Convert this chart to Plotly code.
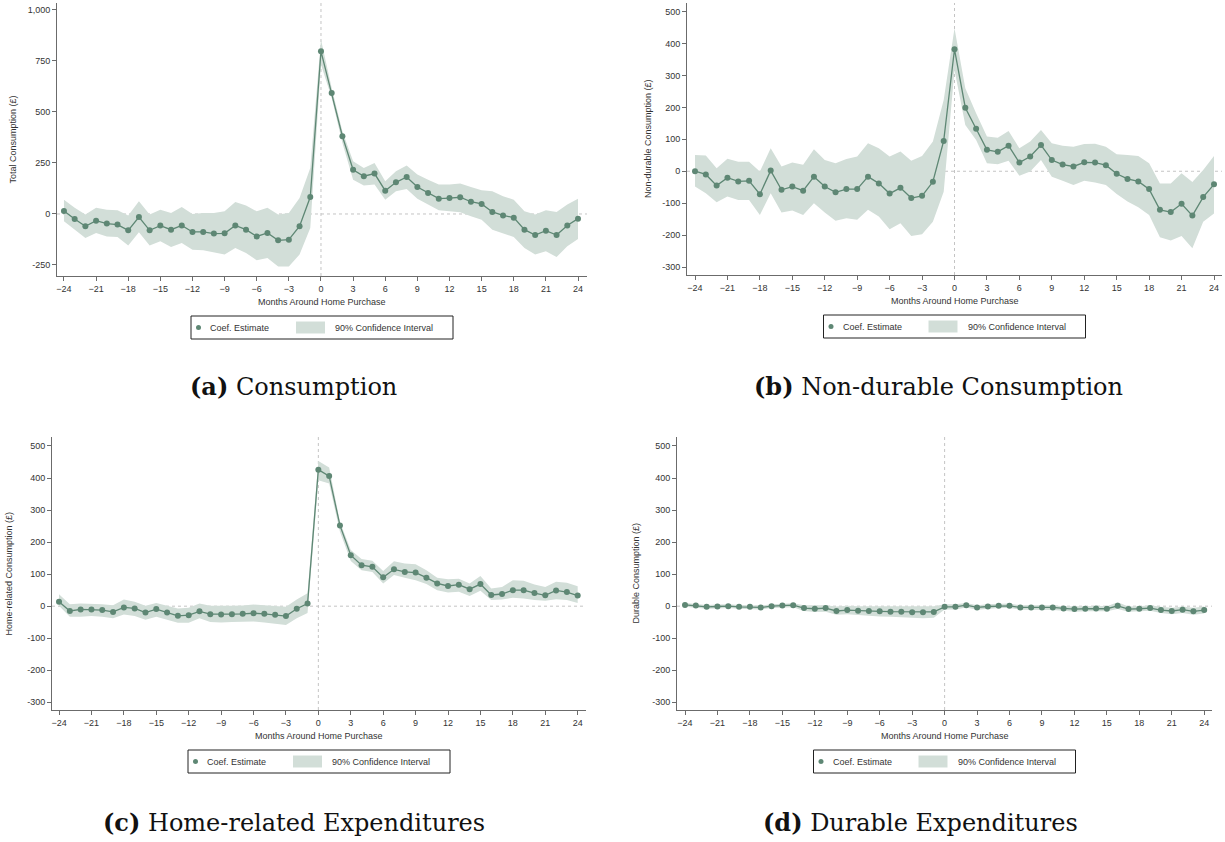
import plotly.graph_objects as go

months = list(range(-24, 25))
x_ticks = list(range(-24, 25, 3))

# (a) Total consumption
a_est = [15, -25, -60, -33, -47, -52, -80, -15, -80, -57, -77, -56, -88, -88, -96, -95, -56, -77, -110, -93, -129, -126, -60, 83,
         797, 593, 381, 217, 185, 198, 114, 155, 181, 132, 103, 75, 78, 82, 60, 49, 10, -7, -18, -77, -103, -82, -103, -56, -23]
a_hi = [70, 30, -3, 30, 21, 18, -8, 62, -3, 21, 5, 34, 0, 5, 5, 13, 59, 41, 13, 30, -3, 5, 78, 225,
        855, 618, 405, 258, 225, 250, 160, 209, 237, 193, 168, 144, 144, 149, 132, 116, 111, 87, 70, 13, -3, 18, 10, 46, 75]
a_lo = [-36, -77, -118, -93, -110, -113, -155, -90, -155, -134, -162, -142, -175, -178, -188, -199, -167, -191, -227, -216, -257, -257, -199, -69,
        732, 569, 348, 168, 139, 144, 70, 111, 123, 74, 46, 18, 13, 8, -11, -28, -77, -96, -113, -167, -199, -183, -211, -158, -123]

# (b) Non-durable consumption
b_est = [0, -10, -45, -20, -32, -30, -72, 2, -58, -48, -61, -17, -48, -66, -56, -56, -17, -38, -70, -52, -84, -77, -33, 95,
         382, 199, 133, 67, 61, 80, 27, 46, 82, 35, 21, 15, 28, 27, 19, -8, -24, -32, -56, -121, -128, -102, -139, -81, -41]
b_hi = [51, 49, 9, 39, 30, 30, -1, 72, 15, 27, 20, 69, 35, 25, 38, 46, 88, 72, 46, 62, 33, 48, 93, 223,
        448, 260, 182, 109, 105, 126, 72, 93, 129, 88, 80, 77, 85, 86, 77, 53, 51, 48, 25, -38, -38, -6, -34, 4, 48]
b_lo = [-48, -69, -97, -79, -90, -90, -137, -69, -129, -123, -137, -100, -129, -155, -147, -152, -121, -142, -182, -163, -203, -197, -158, -64,
        317, 145, 98, 25, 22, 33, -14, -1, 35, -17, -30, -43, -30, -35, -43, -71, -95, -113, -137, -207, -217, -203, -241, -158, -132]

# (c) Home-related expenditures
c_est = [14, -15, -10, -10, -12, -18, -4, -7, -20, -9, -20, -30, -28, -16, -25, -26, -25, -24, -22, -24, -27, -31, -8, 8,
         426, 406, 252, 159, 128, 123, 90, 115, 107, 105, 89, 71, 63, 67, 53, 69, 35, 38, 50, 50, 41, 34, 49, 44, 33]
c_hi = [37, 6, 8, 8, 6, 3, 21, 14, 1, 10, 1, -7, -5, 8, 1, 0, 1, 2, 5, 3, 1, -2, 21, 40,
        453, 433, 263, 175, 147, 142, 110, 140, 133, 131, 112, 89, 84, 86, 71, 94, 55, 60, 81, 79, 68, 60, 76, 73, 62]
c_lo = [1, -33, -33, -31, -33, -38, -26, -31, -42, -33, -42, -52, -52, -38, -49, -51, -49, -49, -48, -51, -54, -59, -38, -21,
        393, 383, 232, 141, 112, 107, 71, 97, 89, 81, 69, 50, 43, 45, 32, 48, 19, 21, 26, 24, 19, 17, 22, 19, 10]

# (d) Durable expenditures
d_est = [4, 2, -2, -1, 0, -2, -2, -4, 0, 2, 3, -6, -8, -6, -15, -12, -14, -15, -16, -17, -17, -19, -19, -18,
         -2, -2, 3, -4, -1, 1, 1, -4, -4, -4, -4, -7, -9, -8, -7, -8, 1, -9, -8, -6, -12, -15, -11, -16, -12]
d_hi = [10, 8, 4, 5, 6, 4, 4, 2, 6, 8, 9, 3, 2, 3, -1, 1, 0, 0, 0, 0, 0, -1, -1, 0,
        6, 6, 10, 3, 6, 8, 8, 3, 3, 3, 3, 0, -1, 0, 1, 0, 12, -1, 0, 3, -2, -5, -1, -5, -1]
d_lo = [-2, -4, -8, -7, -6, -8, -8, -10, -6, -4, -3, -15, -18, -17, -27, -25, -28, -30, -32, -33, -34, -37, -38, -36,
        -10, -10, -4, -11, -8, -6, -6, -11, -11, -11, -12, -14, -17, -16, -15, -16, -9, -17, -16, -14, -21, -25, -21, -27, -23]

y_titles = ["Total Consumption (£)", "Non-durable Consumption (£)",
            "Home-related Consumption (£)", "Durable Consumption (£)"]
captions = [("(a)", "Consumption"), ("(b)", "Non-durable Consumption"),
            ("(c)", "Home-related Expenditures"), ("(d)", "Durable Expenditures")]
ab_yticks = [-250, 0, 250, 500, 750, 1000]
std_yticks = [-300, -200, -100, 0, 100, 200, 300, 400, 500]

W, H = 1225, 842
LINE_COL = "#5e8774"
BAND_COL = "#d2ded8"
TXT = "#333333"
AX = "#6b6b6b"

panels = [
    dict(px=(57, 587), py=(3, 276), xr=[-24.65, 24.84], yr=[-304, 1034], yt=ab_yticks, ytl=["-250", "0", "250", "500", "750", "1,000"],
         est=a_est, hi=a_hi, lo=a_lo, ytx=12, cap_x=293, cap_y=386),
    dict(px=(687, 1222), py=(3, 275), xr=[-24.74, 24.74], yr=[-325, 527], yt=std_yticks, ytl=[str(v) for v in std_yticks],
         est=b_est, hi=b_hi, lo=b_lo, ytx=648, cap_x=938, cap_y=386),
    dict(px=(52, 586), py=(437, 710), xr=[-24.65, 24.77], yr=[-324, 528], yt=std_yticks, ytl=[str(v) for v in std_yticks],
         est=c_est, hi=c_hi, lo=c_lo, ytx=8, cap_x=294, cap_y=822),
    dict(px=(677, 1212), py=(437, 710), xr=[-24.74, 24.72], yr=[-324, 528], yt=std_yticks, ytl=[str(v) for v in std_yticks],
         est=d_est, hi=d_hi, lo=d_lo, ytx=635, cap_x=920, cap_y=822),
]

def fx(p):
    return p / W

def fy(p):
    return 1 - p / H

fig = go.Figure()
shapes = []
annotations = []
layout_axes = {}
sans = "Liberation Sans, Arial, sans-serif"

for i, p in enumerate(panels):
    n = i + 1
    xa = "x" if n == 1 else f"x{n}"
    ya = "y" if n == 1 else f"y{n}"
    xkey = "xaxis" if n == 1 else f"xaxis{n}"
    ykey = "yaxis" if n == 1 else f"yaxis{n}"

    fig.add_trace(go.Scatter(x=months, y=p["hi"], mode="lines", line=dict(width=0, color=BAND_COL),
                             xaxis=xa, yaxis=ya, showlegend=False, hoverinfo="skip"))
    fig.add_trace(go.Scatter(x=months, y=p["lo"], mode="lines", line=dict(width=0, color=BAND_COL),
                             fill="tonexty", fillcolor=BAND_COL,
                             xaxis=xa, yaxis=ya, showlegend=False, hoverinfo="skip"))
    fig.add_trace(go.Scatter(x=months, y=p["est"], mode="lines+markers",
                             line=dict(width=1.3, color=LINE_COL),
                             marker=dict(size=6, color=LINE_COL),
                             xaxis=xa, yaxis=ya, showlegend=False))

    axfont = dict(family=sans, size=9, color=TXT)
    layout_axes[xkey] = dict(domain=[fx(p["px"][0]), fx(p["px"][1])], anchor=ya, range=p["xr"],
                             tickvals=x_ticks, ticks="outside", ticklen=4, tickcolor=AX,
                             showline=True, linecolor=AX, linewidth=1, showgrid=False, zeroline=False,
                             tickfont=axfont, fixedrange=True)
    layout_axes[ykey] = dict(domain=[fy(p["py"][1]), fy(p["py"][0])], anchor=xa, range=p["yr"],
                             tickvals=p["yt"], ticktext=p["ytl"], ticks="outside", ticklen=4, tickcolor=AX,
                             showline=True, linecolor=AX, linewidth=1, showgrid=False, zeroline=False,
                             tickfont=axfont, fixedrange=True)

    shapes.append(dict(type="line", xref=xa, yref=f"{ya} domain", x0=0, x1=0, y0=0, y1=1,
                       line=dict(color="#c4c4c4", width=1, dash="dot"), layer="below"))
    shapes.append(dict(type="line", xref=f"{xa} domain", yref=ya, x0=0, x1=1, y0=0, y1=0,
                       line=dict(color="#c4c4c4", width=1, dash="dot"), layer="below"))

    cx = (p["px"][0] + p["px"][1]) / 2
    xb = p["py"][1]

    annotations.append(dict(text="Months Around Home Purchase", x=fx(cx), y=fy(xb + 26), xref="paper", yref="paper",
                            showarrow=False, xanchor="center", yanchor="middle",
                            font=dict(family=sans, size=9, color=TXT)))
    annotations.append(dict(text=y_titles[i], x=fx(p["ytx"]), y=fy((p["py"][0] + p["py"][1]) / 2),
                            xref="paper", yref="paper", showarrow=False, textangle=-90,
                            xanchor="center", yanchor="middle",
                            font=dict(family=sans, size=9, color=TXT)))

    L = cx - 131
    R = cx + 131
    T = xb + 40
    B = xb + 63
    mid = (T + B) / 2
    shapes.append(dict(type="rect", xref="paper", yref="paper", x0=fx(L), x1=fx(R), y0=fy(B), y1=fy(T),
                       line=dict(color="#222222", width=1), fillcolor="white"))
    shapes.append(dict(type="circle", xref="paper", yref="paper", x0=fx(L + 5), x1=fx(L + 10),
                       y0=fy(mid + 2.5), y1=fy(mid - 2.5), line=dict(width=0), fillcolor=LINE_COL))
    annotations.append(dict(text="Coef. Estimate", x=fx(L + 17), y=fy(mid), xref="paper", yref="paper",
                            showarrow=False, xanchor="left", yanchor="middle",
                            font=dict(family=sans, size=9, color=TXT)))
    shapes.append(dict(type="rect", xref="paper", yref="paper", x0=fx(L + 105), x1=fx(L + 134),
                       y0=fy(mid + 6), y1=fy(mid - 6), line=dict(width=0), fillcolor=BAND_COL))
    annotations.append(dict(text="90% Confidence Interval", x=fx(L + 142), y=fy(mid), xref="paper", yref="paper",
                            showarrow=False, xanchor="left", yanchor="middle",
                            font=dict(family=sans, size=9, color=TXT)))

    lab, name = captions[i]
    annotations.append(dict(text=f"<b>{lab}</b> {name}", x=fx(p["cap_x"]), y=fy(p["cap_y"]), xref="paper", yref="paper",
                            showarrow=False, xanchor="center", yanchor="middle",
                            font=dict(family="DejaVu Serif, serif", size=24, color="#111111")))

fig.update_layout(width=W, height=H, margin=dict(l=0, r=0, t=0, b=0),
                  paper_bgcolor="white", plot_bgcolor="white",
                  shapes=shapes, annotations=annotations, showlegend=False, **layout_axes)

fig.write_html("out.html")
